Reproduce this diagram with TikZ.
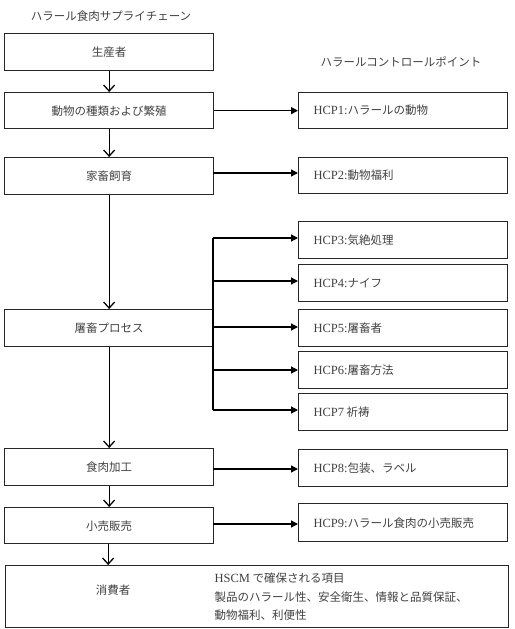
\documentclass[tikz,border=0pt]{standalone}
\usepackage{fontspec}
\setmainfont{Liberation Serif}
\newfontfamily\jp{Noto Sans CJK JP}
\newcommand{\lat}[1]{{\rmfamily\fontsize{12.5}{14}\selectfont #1}}
\usetikzlibrary{arrows.meta}
\begin{document}
\begin{tikzpicture}[x=1pt,y=-1pt,
  box/.style={draw=black!85,line width=1.3pt,inner sep=0pt,anchor=north west},
  lbl/.style={text=black!75,font=\jp\fontsize{11.5}{14}\selectfont},
  down/.style={-{Straight Barb[length=6pt,width=11pt,line width=1.3pt]},line width=1.3pt},
  right/.style={-{Triangle[length=7pt,width=7pt]},line width=1.3pt}]
\useasboundingbox (0,0) rectangle (514,629);
% left column
\node[box,minimum width=209pt,minimum height=37pt] (p1) at (4,33) {};
\node[box,minimum width=209pt,minimum height=36pt] (p2) at (4,92) {};
\node[box,minimum width=209pt,minimum height=37pt] (p3) at (4,157) {};
\node[box,minimum width=209pt,minimum height=37pt] (p4) at (4,309) {};
\node[box,minimum width=209pt,minimum height=37pt] (p5) at (4,448) {};
\node[box,minimum width=209pt,minimum height=36pt] (p6) at (4,507) {};
\node[box,minimum width=503pt,minimum height=62pt] (p7) at (5,565) {};
\node[lbl] at (p1.center) {生産者};
\node[lbl] at (p2.center) {動物の種類および繁殖};
\node[lbl] at (p3.center) {家畜飼育};
\node[lbl] at (p4.center) {屠畜プロセス};
\node[lbl] at (p5.center) {食肉加工};
\node[lbl] at (p6.center) {小売販売};
\node[lbl] (cons) at (113,590) {消費者};
\node[lbl,anchor=west] (h1) at (211,578) {\lat{HSCM} で確保される項目};
\node[lbl,anchor=west] (h2) at (211,597) {製品のハラール性、安全衛生、情報と品質保証、};
\node[lbl,anchor=west] (h3) at (211,615) {動物福利、利便性};
% titles
\node[lbl] (t1) at (111,16) {ハラール食肉サプライチェーン};
\node[lbl] (t2) at (401,62) {ハラールコントロールポイント};
% right column
\node[box,minimum width=209pt,minimum height=36pt] (c1) at (298,92) {};
\node[box,minimum width=209pt,minimum height=36pt] (c2) at (298,157) {};
\node[box,minimum width=209pt,minimum height=37pt] (c3) at (298,221) {};
\node[box,minimum width=209pt,minimum height=37pt] (c4) at (298,264) {};
\node[box,minimum width=209pt,minimum height=37pt] (c5) at (298,309) {};
\node[box,minimum width=209pt,minimum height=37pt] (c6) at (298,351) {};
\node[box,minimum width=209pt,minimum height=37pt] (c7) at (298,393) {};
\node[box,minimum width=209pt,minimum height=37pt] (c8) at (298,449) {};
\node[box,minimum width=209pt,minimum height=38pt] (c9) at (298,503) {};
\node[lbl,anchor=west] at ([xshift=12pt]c1.west) {\lat{HCP1:}ハラールの動物};
\node[lbl,anchor=west] at ([xshift=12pt]c2.west) {\lat{HCP2:}動物福利};
\node[lbl,anchor=west] at ([xshift=12pt]c3.west) {\lat{HCP3:}気絶処理};
\node[lbl,anchor=west] at ([xshift=12pt]c4.west) {\lat{HCP4:}ナイフ};
\node[lbl,anchor=west] at ([xshift=12pt]c5.west) {\lat{HCP5:}屠畜者};
\node[lbl,anchor=west] at ([xshift=12pt]c6.west) {\lat{HCP6:}屠畜方法};
\node[lbl,anchor=west] at ([xshift=12pt]c7.west) {\lat{HCP7} 祈祷};
\node[lbl,anchor=west] at ([xshift=12pt]c8.west) {\lat{HCP8:}包装、ラベル};
\node[lbl,anchor=west] at ([xshift=12pt]c9.west) {\lat{HCP9:}ハラール食肉の小売販売};
% vertical arrows
\draw[down] (p1.south) -- (p2.north);
\draw[down] (p2.south) -- (p3.north);
\draw[down] (p3.south) -- (p4.north);
\draw[down] (p4.south) -- (p5.north);
\draw[down] (p5.south) -- (p6.north);
\draw[down] ([xshift=-1pt]p6.south) -- ([xshift=-1pt]p6.south |- p7.north);
% horizontal arrows
\draw[right] (p2.east) -- (p2.east -| c1.west);
\draw[right] (213,173) -- (213,173 -| c2.west);
\coordinate (bt) at (213,238);
\coordinate (bb) at (213,410);
\coordinate (b4) at (213,281);
\coordinate (b5) at (213,327);
\coordinate (b6) at (213,370);
\draw[line width=1.3pt] (bt) -- (bb);
\draw[right] (bt) -- (bt -| c3.west);
\draw[right] (b4) -- (b4 -| c4.west);
\draw[right] (b5) -- (b5 -| c5.west);
\draw[right] (b6) -- (b6 -| c6.west);
\draw[right] (bb) -- (bb -| c7.west);
\draw[right] (213,469) -- (213,469 -| c8.west);
\draw[right] (213,524) -- (213,524 -| c9.west);
\end{tikzpicture}
\end{document}
